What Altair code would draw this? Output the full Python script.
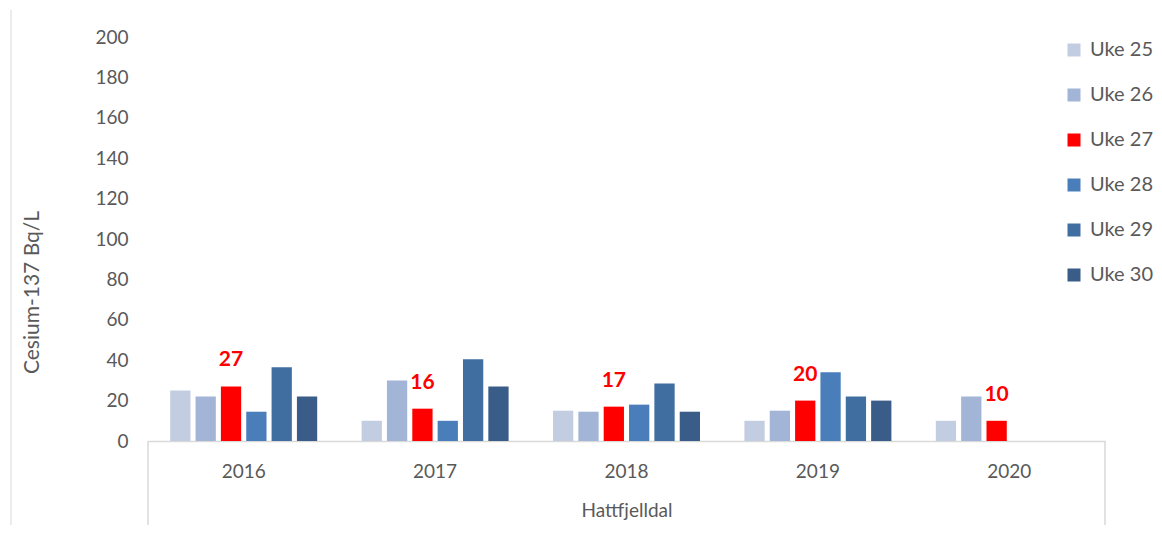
import altair as alt
import pandas as pd

years = ["2016", "2017", "2018", "2019", "2020"]
weeks = ["Uke 25", "Uke 26", "Uke 27", "Uke 28", "Uke 29", "Uke 30"]
uke25 = [25, 10, 15, 10, 10]
uke26 = [22, 30, 14.5, 15, 22]
uke27 = [27, 16, 17, 20, 10]
uke28 = [14.5, 10, 18, 34, None]
uke29 = [36.5, 40.5, 28.5, 22, None]
uke30 = [22, 27, 14.5, 20, None]
colors = ["#C3CDE2", "#A2B5D6", "#FF0000", "#4A7EBB", "#416EA1", "#3A5C89"]
y_ticks = list(range(0, 201, 20))

series = [uke25, uke26, uke27, uke28, uke29, uke30]
rows = []
for w, vals in zip(weeks, series):
    for yr, v in zip(years, vals):
        if v is not None:
            rows.append({"year": yr, "week": w, "value": v})
df = pd.DataFrame(rows)

FONT = "Lato"
GRAY = "#595959"
LINE = "#D9D9D9"
W, H = 957, 404

x_enc = alt.X(
    "year:N",
    sort=years,
    scale=alt.Scale(paddingInner=0.232, paddingOuter=0.116),
    axis=alt.Axis(
        title="Hattfjelldal",
        labelAngle=0,
        labelFont=FONT,
        labelFontSize=19,
        labelColor=GRAY,
        labelPadding=21,
        ticks=False,
        tickSize=0,
        domainColor=LINE,
        domainWidth=1.5,
        titleFont=FONT,
        titleFontSize=19,
        titleFontWeight="normal",
        titleColor=GRAY,
        titlePadding=20,
    ),
)
xoff = alt.XOffset(
    "week:N", sort=weeks,
    scale=alt.Scale(domain=weeks, paddingInner=0.2, paddingOuter=0),
)
y_enc = alt.Y(
    "value:Q",
    scale=alt.Scale(domain=[0, 200], nice=False),
    axis=alt.Axis(
        values=y_ticks,
        title="Cesium-137 Bq/L",
        grid=False,
        domain=False,
        ticks=False,
        labelFont=FONT,
        labelFontSize=19,
        labelColor=GRAY,
        labelPadding=20,
        titleFont=FONT,
        titleFontSize=21,
        titleFontWeight="normal",
        titleColor=GRAY,
        titleAngle=270,
        titleAlign="center",
        titleBaseline="middle",
        titleX=-116,
        titleY=255,
    ),
)

bars = alt.Chart(df).mark_bar().encode(
    x=x_enc,
    xOffset=xoff,
    y=y_enc,
    color=alt.Color(
        "week:N",
        scale=alt.Scale(domain=weeks, range=colors),
        legend=alt.Legend(
            title=None,
            orient="none",
            legendX=916,
            legendY=3,
            symbolType="square",
            symbolSize=169,
            symbolStrokeWidth=0,
            labelFont=FONT,
            labelFontSize=20,
            labelColor=GRAY,
            rowPadding=25,
            labelOffset=6,
        ),
    ),
)

labels = alt.Chart(df).transform_filter(
    alt.datum.week == "Uke 27"
).mark_text(
    dy=-26, fontWeight="bold", color="#FF0000", fontSize=21, font=FONT, baseline="middle"
).encode(
    x=alt.X("year:N", sort=years),
    xOffset=alt.XOffset("week:N", sort=weeks),
    y=alt.Y("value:Q"),
    text=alt.Text("value:Q", format="d"),
)

frame_data = alt.Data(values=[{"k": 0}])
left_box = alt.Chart(frame_data).mark_rule(color=LINE, strokeWidth=1.5).encode(
    x=alt.value(0), y=alt.value(H), y2=alt.value(H + 90)
)
right_box = alt.Chart(frame_data).mark_rule(color=LINE, strokeWidth=1.5).encode(
    x=alt.value(W), y=alt.value(H), y2=alt.value(H + 90)
)
outer_border = alt.Chart(frame_data).mark_rule(color=LINE, strokeWidth=1).encode(
    x=alt.value(-137), y=alt.value(-27), y2=alt.value(H + 90)
)

chart = alt.layer(bars, labels, left_box, right_box, outer_border).properties(
    width=W,
    height=H,
    autosize=alt.AutoSizeParams(type="none"),
    padding={"left": 140, "top": 29, "right": 49, "bottom": 84},
    background="white",
).configure_view(stroke=None)

chart.save("out.html", embed_options={"renderer": "svg", "actions": False})
